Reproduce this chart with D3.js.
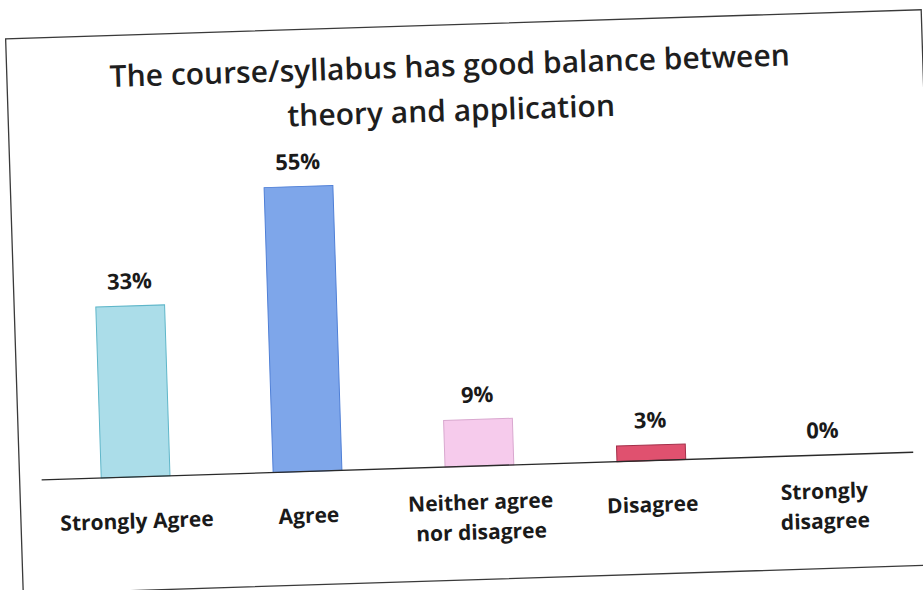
<!DOCTYPE html>
<html>
<head>
<meta charset="utf-8">
<script src="https://cdn.jsdelivr.net/npm/d3@7"></script>
<style>
    body { margin: 0; background: #fff; }
    .title { font-family: 'Open Sans', sans-serif; font-size: 30px; font-weight: 600; fill: #1e1e1e; }
    .valueLabel { font-family: 'Open Sans', sans-serif; font-size: 22px; font-weight: bold; fill: #1a1a1a; }
    .catLabel { font-family: 'Open Sans', sans-serif; font-size: 21px; font-weight: bold; fill: #1a1a1a; }
</style>
</head>
<body>
<div id="chart"></div>
<script>
//Datos del gráfico
const categories = ['Strongly Agree', 'Agree', 'Neither agree nor disagree', 'Disagree', 'Strongly disagree']
const values = [33, 55, 9, 3, 0]
const categoryLines = [['Strongly Agree'], ['Agree'], ['Neither agree', 'nor disagree'], ['Disagree'], ['Strongly', 'disagree']]
const titleLines = ['The course/syllabus has good balance between', 'theory and application']
const colors = ['#abdde9', '#7ea6ea', '#f6cbec', '#e0516f', '#c9c9c9']
const strokes = ['#5fb6c9', '#4f7fd6', '#d9a8cf', '#a3304a', '#999']

//Constantes
const width = 923
const height = 590
const baseY = 466.5
const angle = -1.82   //el escaneo está un poco girado

const svg = d3.select('#chart')
    .append('svg')
    .attr('width', width)
    .attr('height', height)

const group = svg.append('g')
    .attr('transform', `rotate(${angle}, 461, 295)`)

//Marco
group.append('rect')
    .attr('x', 14)
    .attr('y', 24.5)
    .attr('width', 916)
    .attr('height', 555.5)
    .attr('fill', 'none')
    .attr('stroke', '#3a3a3a')
    .attr('stroke-width', 1.3)

//Título
group.append('g')
    .selectAll('text')
    .data(titleLines)
    .enter()
    .append('text')
    .attr('class', 'title')
    .attr('x', 457)
    .attr('y', (d, i) => 76 + i * 45)
    .attr('text-anchor', 'middle')
    .text(d => d)

//Escalas
const scaleX = d3.scaleBand()
    .domain(categories)
    .range([44, 904])
    .paddingInner(0.6)
    .paddingOuter(0.3)

const scaleY = d3.scaleLinear()
    .domain([0, 60])
    .range([baseY, baseY - 311])

const color = d3.scaleOrdinal().domain(categories).range(colors)
const stroke = d3.scaleOrdinal().domain(categories).range(strokes)

//Barras
group.append('g')
    .selectAll('rect')
    .data(values)
    .enter()
    .append('rect')
    .attr('x', (d, i) => scaleX(categories[i]))
    .attr('y', d => scaleY(d))
    .attr('width', scaleX.bandwidth())
    .attr('height', d => baseY - scaleY(d))
    .attr('fill', (d, i) => color(categories[i]))
    .attr('stroke', (d, i) => d > 0 ? stroke(categories[i]) : 'none')
    .attr('stroke-width', 1)

//Eje X (línea base)
group.append('line')
    .attr('x1', 36)
    .attr('x2', 908)
    .attr('y1', baseY)
    .attr('y2', baseY)
    .attr('stroke', '#2a2a2a')
    .attr('stroke-width', 1.4)

//Etiquetas de valores
group.append('g')
    .selectAll('text')
    .data(values)
    .enter()
    .append('text')
    .attr('class', 'valueLabel')
    .attr('x', (d, i) => scaleX(categories[i]) + scaleX.bandwidth() / 2)
    .attr('y', d => scaleY(d) - 17)
    .attr('text-anchor', 'middle')
    .text(d => d + '%')

//Etiquetas de categorías
const catLabels = group.append('g')
    .selectAll('text')
    .data(categoryLines)
    .enter()
    .append('text')
    .attr('class', 'catLabel')
    .attr('text-anchor', 'middle')
    .attr('transform', (d, i) => `translate(${scaleX(categories[i]) + scaleX.bandwidth() / 2}, ${d.length > 1 ? 510 : 518})`)

catLabels.selectAll('tspan')
    .data(d => d)
    .enter()
    .append('tspan')
    .attr('x', 0)
    .attr('y', (d, i) => i * 30)
    .text(d => d)
</script>
</body>
</html>
